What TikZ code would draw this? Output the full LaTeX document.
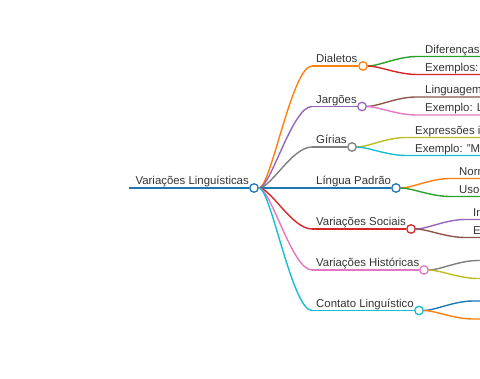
\documentclass[tikz,border=0pt]{standalone}
\usepackage{fontspec}
\setmainfont{Liberation Sans}
\usepackage{tikz}
\usetikzlibrary{positioning,calc}
\definecolor{cBlue}{HTML}{1F77B4}
\definecolor{cOrange}{HTML}{FF7F0E}
\definecolor{cGreen}{HTML}{2CA02C}
\definecolor{cRed}{HTML}{D62728}
\definecolor{cPurple}{HTML}{9467BD}
\definecolor{cBrown}{HTML}{8C564B}
\definecolor{cPink}{HTML}{E377C2}
\definecolor{cGray}{HTML}{7F7F7F}
\definecolor{cOlive}{HTML}{BCBD22}
\definecolor{cCyan}{HTML}{17BECF}
\definecolor{txt}{HTML}{333333}
\tikzset{dot/.style={circle,draw,fill=white,inner sep=0pt,minimum size=8.5pt,line width=1.3pt},
  lbl/.style={text=txt,font=\fontsize{11.4}{13}\selectfont,inner sep=0pt,anchor=base west},
  link/.style={line width=1.4pt},
  limb/.style={link,to path={.. controls +(12,0) and +(-20,0) .. (\tikztotarget)}},
  twig/.style={link,to path={.. controls +(11,0) and +(-19,0) .. (\tikztotarget)}}}

\begin{document}
\begin{tikzpicture}[x=1pt,y=-1pt]
\useasboundingbox (0,0) rectangle (480,379);
\clip (0,0) rectangle (480,379);
% root
\node[dot,draw=cBlue] (root) at (254,188) {};
\coordinate (rootL) at (129,188);
\draw[cBlue,line width=2.2pt] (rootL) -- (root.west);
\node[lbl,anchor=base east] (rootT) at (249,185) {Variações Linguísticas};
% main branches
\coordinate (dialS) at (312,66);   \node[dot,draw=cOrange] (dial) at (363,66) {};
\coordinate (jargS) at (312,106.5);\node[dot,draw=cPurple] (jarg) at (362,106.5) {};
\coordinate (giriS) at (312,147);  \node[dot,draw=cGray] (giri) at (352,147) {};
\node[dot,draw=cBlue] (padr) at (396,188) {};
\coordinate (sociS) at (312,229);  \node[dot,draw=cRed] (soci) at (411,229) {};
\coordinate (histS) at (312,270);  \node[dot,draw=cPink] (hist) at (424,270) {};
\coordinate (contS) at (312,310.5);\node[dot,draw=cCyan] (cont) at (419,310.5) {};
\draw[cOrange,limb] (root.east) to (dialS); \draw[link,cOrange] (dialS) -- (dial.west);
\draw[cPurple,limb] (root.east) to (jargS); \draw[link,cPurple] (jargS) -- (jarg.west);
\draw[cGray,limb] (root.east) to (giriS); \draw[link,cGray] (giriS) -- (giri.west);
\draw[link,cBlue] (root.east) -- (padr.west);
\draw[cRed,limb] (root.east) to (sociS); \draw[link,cRed] (sociS) -- (soci.west);
\draw[cPink,limb] (root.east) to (histS); \draw[link,cPink] (histS) -- (hist.west);
\draw[cCyan,limb] (root.east) to (contS); \draw[link,cCyan] (contS) -- (cont.west);
\node[lbl] (dialT) at (316,63) {Dialetos};
\node[lbl] (jargT) at (316,103.5) {Jargões};
\node[lbl] (giriT) at (316,144) {Gírias};
\node[lbl] (padrT) at (316,185) {Língua Padrão};
\node[lbl] (sociT) at (316,226) {Variações Sociais};
\node[lbl] (histT) at (316,267) {Variações Históricas};
\node[lbl] (contT) at (316,307.5) {Contato Linguístico};
% sub branches
\coordinate (dialA) at (417,56.5);  \coordinate (dialAe) at (490,56.5);
\coordinate (dialB) at (417,74.5);  \coordinate (dialBe) at (490,74.5);
\draw[cGreen,twig] (dial.east) to (dialA) -- (dialAe);
\draw[cRed,twig] (dial.east) to (dialB) -- (dialBe);
\node[lbl] (dialAT) at (425,53.5) {Diferenças};
\node[lbl] (dialBT) at (425,71.5) {Exemplos:};
\coordinate (jargA) at (416,97);  \coordinate (jargAe) at (490,97);
\coordinate (jargB) at (416,115); \coordinate (jargBe) at (490,115);
\draw[cBrown,twig] (jarg.east) to (jargA) -- (jargAe);
\draw[cPink,twig] (jarg.east) to (jargB) -- (jargBe);
\node[lbl] (jargAT) at (425,94) {Linguagem};
\node[lbl] (jargBT) at (425,112) {Exemplo: L};
\coordinate (giriA) at (406,137.5); \coordinate (giriAe) at (490,137.5);
\coordinate (giriB) at (406,155.5); \coordinate (giriBe) at (490,155.5);
\draw[cOlive,twig] (giri.east) to (giriA) -- (giriAe);
\draw[cCyan,twig] (giri.east) to (giriB) -- (giriBe);
\node[lbl] (giriAT) at (415,134.5) {Expressões i};
\node[lbl] (giriBT) at (415,152.5) {Exemplo: "Ma};
\coordinate (padrA) at (450,178.5); \coordinate (padrAe) at (490,178.5);
\coordinate (padrB) at (450,196.5); \coordinate (padrBe) at (490,196.5);
\draw[cOrange,twig] (padr.east) to (padrA) -- (padrAe);
\draw[cGreen,twig] (padr.east) to (padrB) -- (padrBe);
\node[lbl] (padrAT) at (459,175.5) {Norm};
\node[lbl] (padrBT) at (459,193.5) {Uso};
\coordinate (sociA) at (465,219.5); \coordinate (sociAe) at (490,219.5);
\coordinate (sociB) at (465,237.5); \coordinate (sociBe) at (490,237.5);
\draw[cPurple,twig] (soci.east) to (sociA) -- (sociAe);
\draw[cBrown,twig] (soci.east) to (sociB) -- (sociBe);
\node[lbl] (sociAT) at (473,216.5) {In};
\node[lbl] (sociBT) at (473,234.5) {E};
\coordinate (histA) at (478,260.5); \coordinate (histAe) at (490,260.5);
\coordinate (histB) at (478,278.5); \coordinate (histBe) at (490,278.5);
\draw[cGray,twig] (hist.east) to (histA) -- (histAe);
\draw[cOlive,twig] (hist.east) to (histB) -- (histBe);
\coordinate (contA) at (473,301);  \coordinate (contAe) at (490,301);
\coordinate (contB) at (473,319);  \coordinate (contBe) at (490,319);
\draw[cBlue,twig] (cont.east) to (contA) -- (contAe);
\draw[cOrange,twig] (cont.east) to (contB) -- (contBe);
\end{tikzpicture}
\end{document}
